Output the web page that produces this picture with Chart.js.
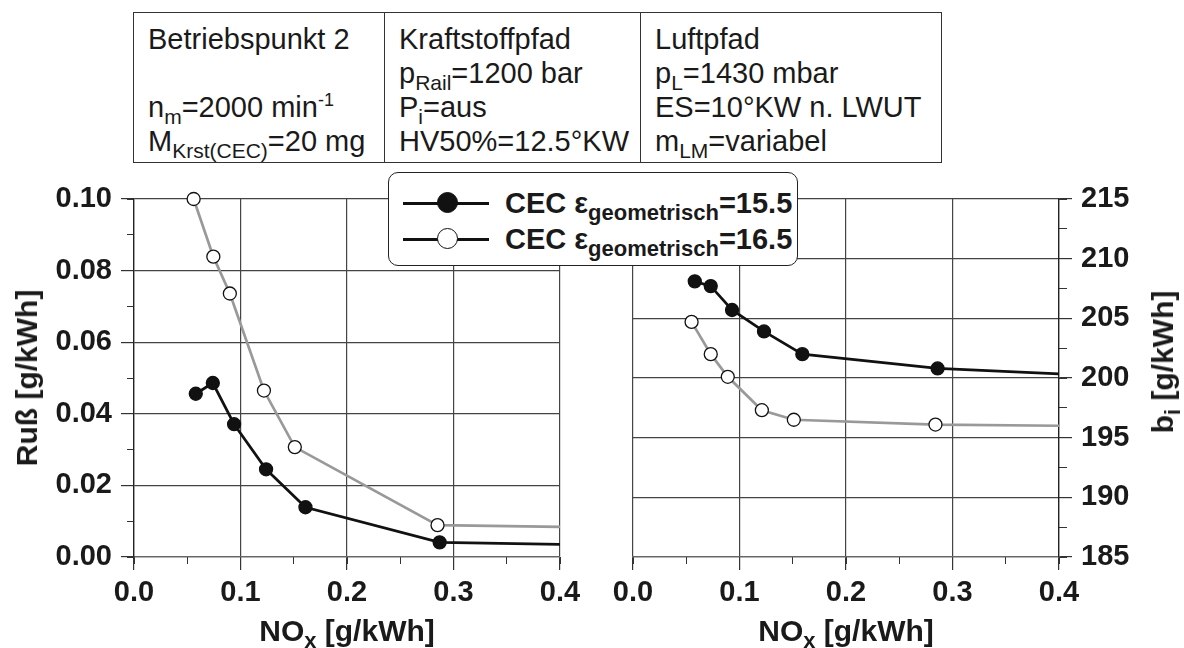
<!DOCTYPE html>
<html>
<head>
<meta charset="utf-8">
<script src="https://cdn.jsdelivr.net/npm/chart.js@4.4.1/dist/chart.umd.min.js"></script>
<style>
  body { margin: 0; background: #fff; width: 1184px; height: 648px; position: relative; overflow: hidden;
         font-family: 'Liberation Sans', Arial, sans-serif; color: #1a1a1a; }
  .wrap { position: absolute; top: 0; height: 648px; z-index: 1; }
  #wrapL { left: 0; width: 600px; }
  #wrapR { left: 600px; width: 584px; }
  #hdr { position: absolute; left: 133px; top: 12px; width: 809px; height: 151px; box-sizing: border-box;
         border: 1.5px solid #333; display: flex; z-index: 2; background: #fff; }
  #hdr .cell { box-sizing: border-box; padding: 9px 0 0 14px; font-size: 29px; line-height: 34px; white-space: nowrap; }
  #hdr .cell + .cell { border-left: 1.5px solid #333; }
  #hdr sub { font-size: 21px; line-height: 0; vertical-align: -7px; }
  #hdr sup { font-size: 18px; line-height: 0; vertical-align: 11px; }
  #legend { position: absolute; left: 388px; top: 172px; width: 410px; height: 94px; box-sizing: border-box;
            border: 1.3px solid #222; border-radius: 10px; background: #fff; z-index: 3; }
  .lrow { position: absolute; left: 0; width: 100%; height: 36px; }
  .lline { position: absolute; left: 14px; width: 86px; top: 17px; height: 3px; background: #111; }
  .ldot { position: absolute; left: 48px; top: 7px; width: 21px; height: 21px; border-radius: 50%;
          box-sizing: border-box; border: 1.5px solid #111; background: #111; }
  .ldot.open { background: #fff; }
  .ltxt { position: absolute; left: 116px; top: 0; font-size: 29px; font-weight: bold; line-height: 36px; white-space: nowrap; }
  .ltxt sub { font-size: 22px; line-height: 0; vertical-align: -7px; }
  .title { position: absolute; font-size: 30px; font-weight: bold; white-space: nowrap; z-index: 2;
           transform: translate(-50%, -50%); line-height: 34px; }
  .title.rot { transform: translate(-50%, -50%) rotate(-90deg); }
  .title sub { font-size: 22px; line-height: 0; vertical-align: -7px; }
</style>
</head>
<body>
<div id="hdr">
  <div class="cell" style="width:250px">
    <div>Betriebspunkt 2</div>
    <div>&nbsp;</div>
    <div>n<sub>m</sub>=2000 min<sup>-1</sup></div>
    <div>M<sub>Krst(CEC)</sub>=20 mg</div>
  </div>
  <div class="cell" style="width:256px">
    <div>Kraftstoffpfad</div>
    <div>p<sub>Rail</sub>=1200 bar</div>
    <div>P<sub>i</sub>=aus</div>
    <div>HV50%=12.5°KW</div>
  </div>
  <div class="cell" style="flex:1">
    <div>Luftpfad</div>
    <div>p<sub>L</sub>=1430 mbar</div>
    <div>ES=10°KW n. LWUT</div>
    <div>m<sub>LM</sub>=variabel</div>
  </div>
</div>

<div id="legend">
  <div class="lrow" style="top:12px"><span class="lline"></span><span class="ldot"></span>
    <span class="ltxt">CEC ε<sub>geometrisch</sub>=15.5</span></div>
  <div class="lrow" style="top:48px"><span class="lline"></span><span class="ldot open"></span>
    <span class="ltxt">CEC ε<sub>geometrisch</sub>=16.5</span></div>
</div>

<div class="title rot" style="left:27px;top:378px">Ruß [g/kWh]</div>
<div class="title rot" style="left:1163px;top:362px">b<sub>i</sub> [g/kWh]</div>
<div class="title" style="left:347px;top:631px">NO<sub>x</sub> [g/kWh]</div>
<div class="title" style="left:846px;top:631px">NO<sub>x</sub> [g/kWh]</div>

<div class="wrap" id="wrapL"><canvas id="chartL"></canvas></div>
<div class="wrap" id="wrapR"><canvas id="chartR"></canvas></div>

<script>
// Ruß über NOx (linkes Diagramm); letzter Wert = Linienende ohne Marker
const noxRuss155 = [0.058, 0.074, 0.094, 0.124, 0.161, 0.287, 0.4];
const russ155 = [0.0456, 0.0486, 0.0371, 0.0245, 0.0139, 0.0041, 0.0035];
const noxRuss165 = [0.056, 0.0745, 0.090, 0.122, 0.151, 0.285, 0.4];
const russ165 = [0.1000, 0.0839, 0.0736, 0.0465, 0.0307, 0.0089, 0.0084];

// bi über NOx (rechtes Diagramm)
const noxBi155 = [0.058, 0.073, 0.093, 0.123, 0.159, 0.286, 0.4];
const bi155 = [208.1, 207.7, 205.7, 203.9, 202.0, 200.8, 200.35];
const noxBi165 = [0.055, 0.073, 0.089, 0.121, 0.151, 0.284, 0.4];
const bi165 = [204.7, 202.0, 200.1, 197.3, 196.5, 196.1, 196.0];

const xTicks = [0, 0.1, 0.2, 0.3, 0.4];
const russTicks = [0, 0.02, 0.04, 0.06, 0.08, 0.1];
const biTicks = [185, 190, 195, 200, 205, 210, 215];

Chart.defaults.font.family = "'Liberation Sans', Arial, sans-serif";
Chart.defaults.color = '#1a1a1a';

function pts(xs, ys) {
  return xs.map((x, i) => ({ x: x, y: ys[i] }));
}
function radii(xs, r) {
  return xs.map((x, i) => (i < xs.length - 1 ? r : 0));
}

function lineSet(xs, ys, filled) {
  return {
    data: pts(xs, ys),
    borderColor: filled ? '#111' : '#999',
    borderWidth: 2.7,
    pointRadius: radii(xs, 6.5),
    pointBackgroundColor: filled ? '#111' : '#fff',
    pointBorderColor: '#111',
    pointBorderWidth: 1.3,
    tension: 0,
    clip: false
  };
}

function minorAxis(pos, min, max, step, len) {
  const horiz = pos === 'bottom';
  return {
    type: 'linear', position: pos, min: min, max: max, weight: -1,
    afterFit: (s) => { if (horiz) s.height = 0; else s.width = 0; },
    ticks: { display: false, stepSize: step },
    grid: { drawOnChartArea: false, tickLength: len, tickColor: '#333', tickWidth: 1 },
    border: { display: false }
  };
}

function xAxis() {
  return {
    type: 'linear', position: 'bottom', min: xTicks[0], max: xTicks[xTicks.length - 1],
    afterFit: (s) => { s.height = 91; },
    ticks: {
      stepSize: xTicks[1] - xTicks[0], autoSkip: false, maxRotation: 0, padding: 6,
      font: { size: 29, weight: 'bold' }, callback: (v) => v.toFixed(1)
    },
    grid: { color: '#444', lineWidth: 1.2, tickLength: 13, tickColor: '#333' },
    border: { color: '#666', width: 1.2 }
  };
}

function yAxis(pos, ticks, digits, width, pad) {
  return {
    type: 'linear', position: pos, min: ticks[0], max: ticks[ticks.length - 1],
    afterFit: (s) => { s.width = width; },
    ticks: {
      stepSize: ticks[1] - ticks[0], autoSkip: false, padding: pad,
      font: { size: 29, weight: 'bold' }, callback: (v) => v.toFixed(digits)
    },
    grid: { color: '#444', lineWidth: 1.2, tickLength: 13, tickColor: '#333' },
    border: { color: '#222', width: 1.3 }
  };
}

function baseOptions(padding, scales) {
  return {
    responsive: true,
    maintainAspectRatio: false,
    animation: false,
    events: [],
    layout: { padding: padding },
    plugins: { legend: { display: false }, tooltip: { enabled: false } },
    scales: scales
  };
}

new Chart(document.getElementById('chartL'), {
  type: 'line',
  data: {
    datasets: [
      lineSet(noxRuss165, russ165, false),
      lineSet(noxRuss155, russ155, true)
    ]
  },
  options: baseOptions({ top: 199, left: 0, right: 40, bottom: 0 }, {
    x: xAxis(),
    xMinor: minorAxis('bottom', 0, 0.4, 0.05, 7),
    y: yAxis('left', russTicks, 2, 134, 9),
    yMinor: minorAxis('left', 0, 0.1, 0.01, 7)
  })
});

new Chart(document.getElementById('chartR'), {
  type: 'line',
  data: {
    datasets: [
      lineSet(noxBi165, bi165, false),
      lineSet(noxBi155, bi155, true)
    ]
  },
  options: baseOptions({ top: 199, left: 33, right: 0, bottom: 0 }, {
    x: xAxis(),
    xMinor: minorAxis('bottom', 0, 0.4, 0.05, 7),
    y: yAxis('right', biTicks, 0, 125, 9),
    yMinor: minorAxis('right', 185, 215, 2.5, 8)
  })
});
</script>
</body>
</html>
